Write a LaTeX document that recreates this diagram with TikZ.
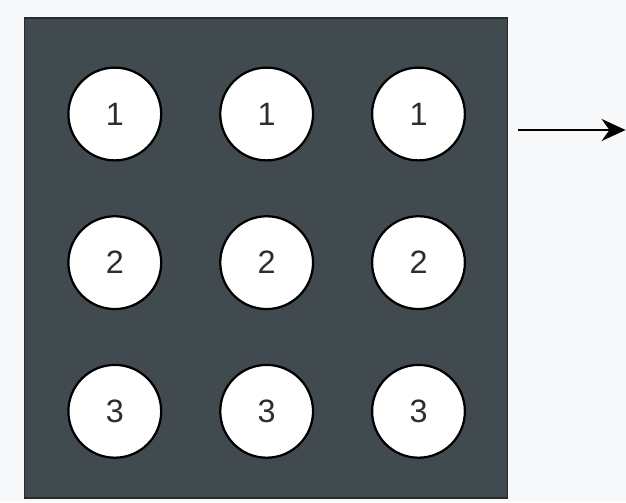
\documentclass[tikz,border=0pt]{standalone}
\usepackage{fontspec}
\setmainfont{Liberation Sans}
\usetikzlibrary{positioning, arrows.meta}
\definecolor{boardGray}{RGB}{65,74,79}
\definecolor{boardEdge}{RGB}{38,43,46}
\definecolor{paper}{RGB}{246,248,250}
\definecolor{digitGray}{RGB}{45,45,45}

\begin{document}
\begin{tikzpicture}[
    node distance=1.34cm and 1.42cm,
    board/.style={rectangle, draw=boardEdge, fill=boardGray, line width=0.8pt,
                  minimum width=12.075cm, minimum height=12cm, inner sep=0pt},
    well/.style={circle, draw=black, fill=white, line width=1.6pt, minimum size=2.32cm,
                 inner sep=0pt, text=digitGray, font=\fontsize{23}{23}\selectfont},
    arrow/.style={-{Stealth[length=0.6cm, width=0.55cm]}, line width=1.5pt},
  ]
    % canvas
    \fill[paper] (0,0) rectangle (15.65,-12.55);
    \useasboundingbox (0,0) rectangle (15.65,-12.55);

    % board
    \node[board] (BOARD) at (6.66,-6.45) {};

    % row 1
    \node[well] (W11) at (2.87,-2.85) {1};
    \node[well, right=of W11] (W12) {1};
    \node[well, right=of W12] (W13) {1};

    % row 2
    \node[well, below=of W11] (W21) {2};
    \node[well, below=of W12] (W22) {2};
    \node[well, below=of W13] (W23) {2};

    % row 3
    \node[well, below=of W21] (W31) {3};
    \node[well, below=of W22] (W32) {3};
    \node[well, below=of W23] (W33) {3};

    % output arrow
    \coordinate (OUT_S) at (12.95,-3.25);
    \coordinate (OUT_E) at (15.64,-3.25);
    \draw[arrow] (OUT_S) -- (OUT_E);
  \end{tikzpicture}
\end{document}
